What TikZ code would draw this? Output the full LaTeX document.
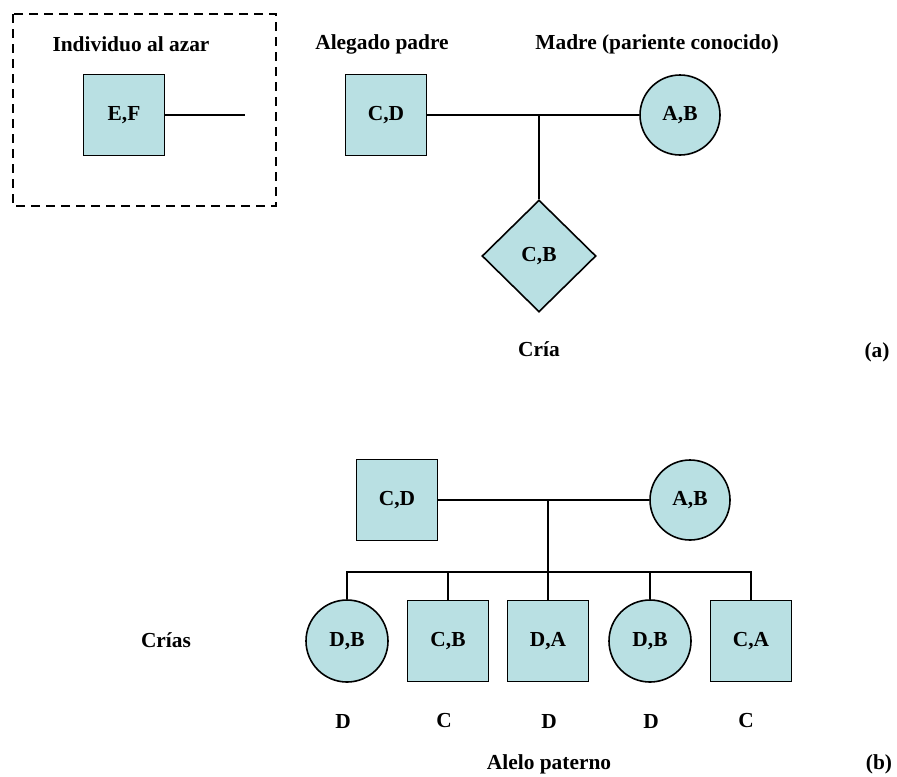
\documentclass[tikz,border=0pt]{standalone}
\usepackage{fontspec}
\setmainfont{Liberation Serif}
\usetikzlibrary{shapes.geometric}
\definecolor{celeste}{RGB}{185,224,227}

\begin{document}
\begin{tikzpicture}[x=0.5pt,y=-0.5pt,line width=0.8pt,
	every node/.style={font=\fontsize{10.7}{13}\selectfont\bfseries},
	macho/.style={draw,fill=celeste,minimum size=40.5pt,inner sep=0pt},
	hembra/.style={draw,fill=celeste,circle,minimum size=40pt,inner sep=0pt},
	cria/.style={draw,fill=celeste,diamond,minimum width=57pt,minimum height=56pt,inner sep=0pt}]
	\useasboundingbox (0,0) rectangle (897,776);

	% (a)
	\draw [dash pattern=on 4.5pt off 3pt] (13,14) rectangle (276,206);
	\node (tazar) at (131,44) {Individuo al azar};
	\node (tpadre) at (382,44) {Alegado padre};
	\node (tmadre) at (657,44) {Madre (pariente conocido)};

	\node [macho] (ef) at (124,115) {E,F};
	\coordinate (libre) at (245,115);
	\draw (ef) -- (libre);

	\node [macho] (cda) at (386,115) {C,D};
	\node [hembra] (aba) at (680,115) {A,B};
	\node [cria] (cb) at (539,256) {C,B};
	\coordinate (ja) at (539,115);
	\draw (cda) -- (aba);
	\draw (ja) -- (cb.north);

	\node (tcria) at (539,349) {Cría};
	\node (ta) at (877,352) {(a)};

	% (b)
	\node [macho] (cdb) at (397,500) {C,D};
	\node [hembra] (abb) at (690,500) {A,B};
	\coordinate (jb) at (548,500);
	\coordinate (hb) at (548,572);
	\draw (cdb) -- (abb);
	\draw (jb) -- (hb);

	\node [hembra,minimum size=41pt] (h1) at (347,641) {D,B};
	\node [macho] (h2) at (448,641) {C,B};
	\node [macho] (h3) at (548,641) {D,A};
	\node [hembra,minimum size=41pt] (h4) at (650,641) {D,B};
	\node [macho] (h5) at (751,641) {C,A};

	\draw (h1.north) |- (hb) -| (h5.north);
	\draw (h2.north) -- (h2.north |- hb);
	\draw (h3.north) -- (hb);
	\draw (h4.north) -- (h4.north |- hb);

	\node (tcrias) at (166,640) {Crías};
	\node (a1) at (343,721) {D};
	\node (a2) at (444,721) {C};
	\node (a3) at (549,721) {D};
	\node (a4) at (651,721) {D};
	\node (a5) at (746,721) {C};
	\node (talelo) at (549,764) {Alelo paterno};
	\node (tb) at (879,764) {(b)};
\end{tikzpicture}
\end{document}
